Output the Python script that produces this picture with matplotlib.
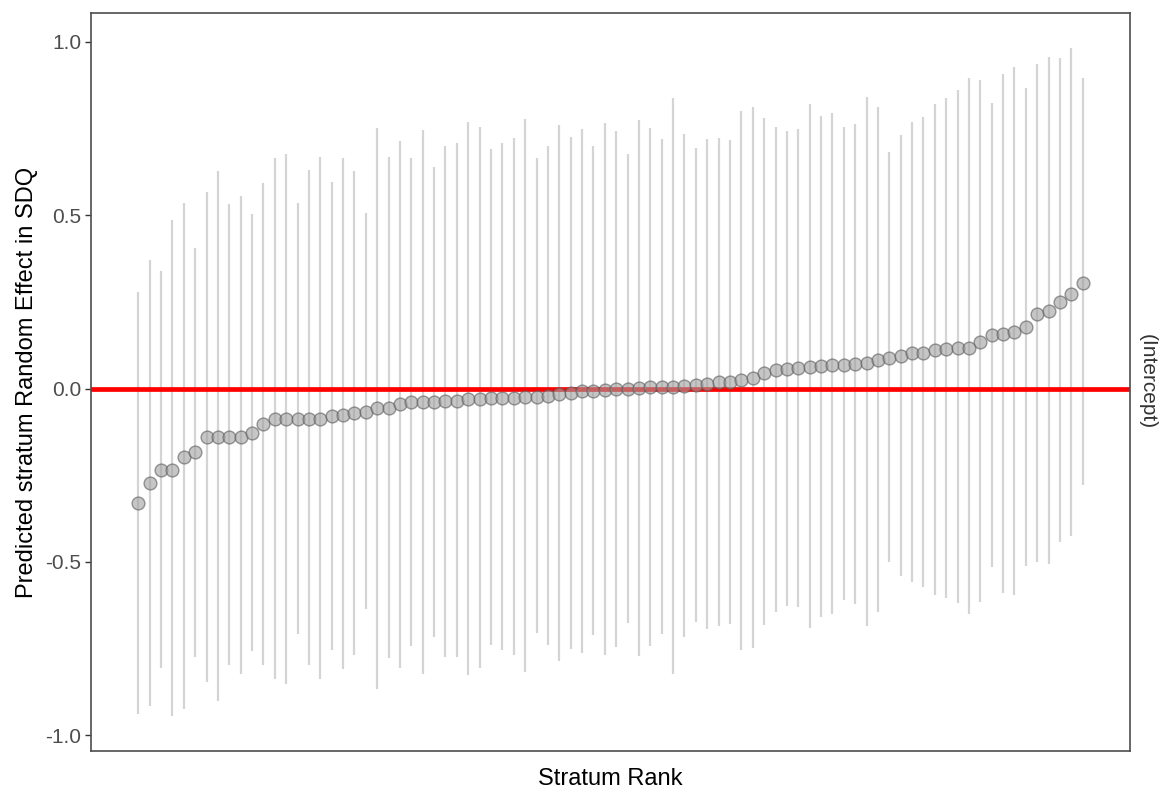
"""Caterpillar plot of predicted stratum random effects."""

import matplotlib

matplotlib.use("Agg")
import matplotlib.pyplot as plt
import numpy as np

# point estimates, sorted by rank
estimate = [
    -0.330, -0.273, -0.234, -0.234, -0.197, -0.183, -0.139, -0.139, -0.139, -0.139,
    -0.128, -0.103, -0.087, -0.087, -0.087, -0.087, -0.087, -0.080, -0.076, -0.071,
    -0.067, -0.057, -0.057, -0.044, -0.039, -0.039, -0.039, -0.036, -0.036, -0.029,
    -0.029, -0.027, -0.027, -0.027, -0.025, -0.025, -0.020, -0.015, -0.012, -0.008,
    -0.007, -0.004, -0.002, 0.000, 0.002, 0.004, 0.005, 0.006, 0.007, 0.009,
    0.014, 0.018, 0.020, 0.024, 0.031, 0.046, 0.055, 0.057, 0.058, 0.063,
    0.064, 0.067, 0.068, 0.071, 0.075, 0.082, 0.088, 0.094, 0.103, 0.104,
    0.111, 0.115, 0.116, 0.118, 0.135, 0.154, 0.158, 0.164, 0.178, 0.214,
    0.225, 0.251, 0.274, 0.305,
]
upper = [
    0.278, 0.372, 0.338, 0.485, 0.535, 0.405, 0.568, 0.626, 0.532, 0.555,
    0.504, 0.592, 0.666, 0.676, 0.536, 0.630, 0.668, 0.595, 0.666, 0.628,
    0.507, 0.750, 0.668, 0.713, 0.666, 0.746, 0.639, 0.699, 0.709, 0.769,
    0.753, 0.690, 0.709, 0.722, 0.777, 0.666, 0.699, 0.759, 0.726, 0.749,
    0.699, 0.766, 0.742, 0.676, 0.775, 0.750, 0.719, 0.837, 0.734, 0.693,
    0.719, 0.722, 0.717, 0.799, 0.811, 0.779, 0.753, 0.742, 0.749, 0.822,
    0.786, 0.795, 0.753, 0.763, 0.840, 0.813, 0.682, 0.730, 0.769, 0.783,
    0.822, 0.837, 0.860, 0.897, 0.889, 0.824, 0.906, 0.926, 0.866, 0.936,
    0.957, 0.953, 0.983, 0.897,
]
lower = [
    -0.939, -0.916, -0.805, -0.945, -0.925, -0.774, -0.845, -0.902, -0.798, -0.822,
    -0.758, -0.798, -0.838, -0.852, -0.707, -0.798, -0.838, -0.754, -0.809, -0.767,
    -0.635, -0.865, -0.778, -0.805, -0.741, -0.822, -0.715, -0.774, -0.774, -0.825,
    -0.805, -0.738, -0.754, -0.769, -0.818, -0.705, -0.738, -0.785, -0.751, -0.761,
    -0.711, -0.769, -0.745, -0.677, -0.771, -0.741, -0.707, -0.822, -0.715, -0.674,
    -0.694, -0.684, -0.680, -0.755, -0.747, -0.682, -0.644, -0.627, -0.631, -0.691,
    -0.658, -0.651, -0.611, -0.622, -0.684, -0.644, -0.501, -0.541, -0.557, -0.571,
    -0.594, -0.604, -0.618, -0.651, -0.614, -0.515, -0.588, -0.595, -0.511, -0.500,
    -0.507, -0.441, -0.426, -0.277,
]
y_ticks = [-1.0, -0.5, 0.0, 0.5, 1.0]
y_tick_labels = ["-1.0", "-0.5", "0.0", "0.5", "1.0"]

plt.rcParams["font.family"] = ["Liberation Sans", "DejaVu Sans"]

rank = np.arange(1, len(estimate) + 1)
est = np.array(estimate)

fig = plt.figure(figsize=(11.61, 7.90), dpi=100)
ax = fig.add_axes([91 / 1161, 1 - 751 / 790, (1130 - 91) / 1161, (751 - 13) / 790])

ax.vlines(rank, lower, upper, color="#d4d4d4", linewidth=1.6, zorder=1)
ax.axhline(0, color="#ff0000", linewidth=3.4, zorder=2)
ax.plot(rank, est, linestyle="none", marker="o", markersize=9.2,
        markerfacecolor="#a0a0a0", markeredgecolor="#5a5a5a", markeredgewidth=1.0,
        alpha=0.6, zorder=3)

n = len(estimate)
pad = 0.05 * (n - 1)
ax.set_xlim(1 - pad, n + pad)
ax.set_ylim(-1.045, 1.083)
ax.set_xticks([])
ax.set_yticks(y_ticks)
ax.set_yticklabels(y_tick_labels, fontsize=15, color="#4d4d4d")
ax.tick_params(axis="y", length=4, width=1, color="#333333", pad=3)
for spine in ax.spines.values():
    spine.set_color("#4d4d4d")
    spine.set_linewidth(1.2)

ax.set_xlabel("Stratum Rank", fontsize=17, color="black", labelpad=12)
ax.set_ylabel("Predicted stratum Random Effect in SDQ", fontsize=17, color="black", labelpad=5)

# facet strip label on the right
ax.text(1.007, 0.5, "(Intercept)", transform=ax.transAxes, rotation=-90,
        ha="left", va="center", fontsize=15, color="#333333")

fig.savefig("out.png", dpi=100)
